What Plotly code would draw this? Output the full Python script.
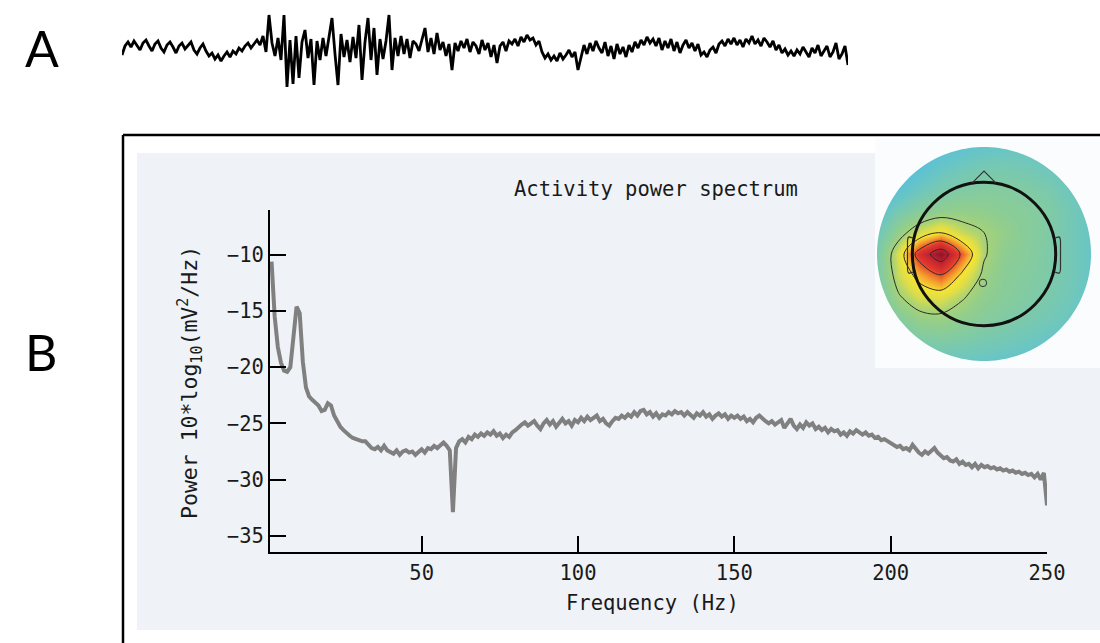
import numpy as np
import plotly.graph_objects as go

W, H = 1100, 643
def px(x): return x / W
def py(y): return 1 - y / H

# ---------------- data ----------------
# Panel A: EEG trace (amplitude, arbitrary units)
eeg_values = [
    -7, 2, 6, 1, 7, 3, -2, 5, 8, 2,
    -3, 4, 7, 0, -4, 3, 6, 1, -5, 2,
    5, -1, 3, 6, -2, -6, 0, 4, -3, -8,
    -5, -11, -7, -13, -8, -4, -9, -3, -6, 0,
    -3, 2, 5, 0, 4, 8, 3, 12, -4, 33,
    5, -8, 10, -12, 33, -39, 8, -36, 12, -30,
    6, 18, -10, 9, -37, 7, -12, 10, -8, 12,
    30, -6, -37, 14, -9, 8, -14, 11, -10, 23,
    -32, 6, 30, -12, 20, -27, 9, -11, 7, 33,
    -22, 10, -8, 12, -6, 9, -10, 7, 4, -3,
    8, 20, -4, 10, -6, 15, -2, 6, -8, 4,
    -22, 5, -3, 7, 0, 9, -4, 6, 2, -6,
    8, -2, 5, -9, 3, -15, 2, 6, -3, 7,
    4, 9, 2, 11, 6, 13, 8, 10, 3, 7,
    -4, -10, -6, -12, -8, -13, -5, -11, -7, -2,
    -9, -4, -22, -8, 3, -6, 5, -3, 7, 0,
    -5, 6, -8, 2, -11, 4, -6, 1, -9, 3,
    -4, 6, 0, 8, 3, 11, 5, 9, 2, 10,
    -2, 7, 0, 9, -3, 6, -5, 3, 8, 0,
    5, -3, 4, -7, -4, -9, -2, 1, -5, 4,
    7, 2, 9, 4, 10, 3, 8, 1, 9, 5,
    12, 4, 8, 2, 10, 6, 1, 7, -2, 3,
    -5, -1, -7, -3, -8, -2, -6, 1, -4, -9,
    0, -5, 3, -8, -3, 2, -9, -4, 5, -11,
    -6, 2, -17,
]

# Panel B: power spectrum, 2..250 Hz in 1 Hz steps
spec_start_hz = 2
spec_values = [
    -10.6, -15.5, -18.2, -19.6, -20.3, -20.4, -20.0, -17.5,
    -14.6, -15.2, -19.5, -21.8, -22.6, -22.9, -23.1, -23.4, -23.9, -23.8,
    -23.2, -23.4, -24.3, -24.9, -25.3, -25.6, -25.9, -26.1, -26.3, -26.4,
    -26.5, -26.6, -26.6, -26.9, -27.2, -27.3, -27.1, -27.4, -27.0, -27.4,
    -27.6, -27.7, -27.4, -27.8, -27.5, -27.4, -27.6, -27.5, -27.8, -27.5,
    -27.3, -27.6, -27.2, -27.3, -27.0, -27.2, -26.9, -26.7, -27.0, -27.4,
    -32.9, -27.2, -26.6, -26.4, -26.7, -26.2, -26.4, -26.0, -26.2, -25.9,
    -26.1, -25.8, -26.0, -25.7, -26.1, -25.9, -26.3, -26.0, -26.2, -25.8,
    -25.6, -25.3, -25.1, -24.9, -25.2, -25.0, -24.8, -25.2, -25.5, -25.0,
    -24.7, -25.1, -24.8, -25.3, -24.9, -24.6, -25.0, -24.8, -25.2, -24.7,
    -24.9, -24.5, -24.8, -24.4, -24.7, -24.5, -24.3, -24.8, -24.6, -25.0,
    -25.2, -24.8, -24.5, -24.6, -24.3, -24.5, -24.2, -24.4, -24.0, -24.3,
    -23.9, -23.8, -24.2, -24.0, -24.4, -24.1, -24.5, -24.2, -24.3, -24.0,
    -24.2, -23.9, -24.1, -24.0, -24.3, -24.0, -24.2, -24.5, -24.1, -24.3,
    -24.0, -24.4, -24.2, -24.6, -24.3, -24.1, -24.4, -24.2, -24.6, -24.3,
    -24.5, -24.3, -24.6, -24.4, -24.8, -24.6, -24.9, -24.5, -24.3, -24.6,
    -24.8, -25.0, -24.8, -25.1, -24.9, -24.7, -25.4, -25.0, -24.6, -25.2,
    -25.5, -25.1, -25.4, -24.9, -25.2, -25.0, -25.5, -25.3, -25.6, -25.4,
    -25.8, -25.5, -25.7, -25.6, -26.0, -25.8, -26.1, -25.7, -25.9, -25.6,
    -25.8, -26.0, -25.8, -26.1, -26.0, -26.3, -26.2, -26.5, -26.4, -26.6,
    -26.7, -26.9, -27.1, -27.0, -27.3, -27.2, -27.4, -26.9, -27.3, -27.6,
    -27.8, -27.5, -27.7, -27.4, -27.2, -27.6, -27.9, -28.1, -28.0, -28.3,
    -28.4, -28.2, -28.6, -28.4, -28.7, -28.6, -28.9, -28.6, -29.0, -28.7,
    -28.9, -28.8, -29.0, -28.9, -29.1, -29.0, -29.2, -29.1, -29.3, -29.2,
    -29.4, -29.3, -29.5, -29.4, -29.6, -29.5, -29.8, -29.5, -30.0, -29.4,
    -32.3,
]
spec_freqs = list(range(spec_start_hz, spec_start_hz + len(spec_values)))

x_tickvals = [50, 100, 150, 200, 250]
y_tickvals = [-35, -30, -25, -20, -15, -10]

# Scalp map grid (normalised head coords)
topo_x = [-1.0, -0.8, -0.6, -0.4, -0.2, 0.0, 0.2, 0.4, 0.6, 0.8, 1.0]
topo_y = [-1.0, -0.8, -0.6, -0.4, -0.2, 0.0, 0.2, 0.4, 0.6, 0.8, 1.0]
topo_z = [
    [.36, .37, .38, .39, .39, .38, .37, .36, .35, .34, .33],
    [.38, .42, .45, .46, .45, .43, .42, .40, .38, .36, .35],
    [.40, .47, .53, .54, .51, .48, .46, .44, .42, .39, .36],
    [.42, .55, .62, .63, .57, .51, .48, .46, .44, .41, .37],
    [.44, .60, .72, .80, .66, .54, .49, .47, .45, .42, .38],
    [.44, .62, .86, 1.0, .78, .57, .50, .48, .45, .42, .38],
    [.40, .52, .62, .68, .60, .56, .52, .48, .46, .42, .38],
    [.34, .43, .48, .51, .52, .51, .49, .48, .46, .42, .38],
    [.28, .34, .40, .44, .46, .47, .47, .46, .44, .40, .36],
    [.24, .28, .33, .38, .41, .43, .43, .42, .40, .37, .34],
    [.22, .24, .28, .32, .35, .37, .38, .38, .37, .35, .32],
]

# ---------------- figure ----------------
FONT = "DejaVu Sans Mono"
FS = 20.5
fig = go.Figure()

fig.add_trace(go.Scatter(
    x=spec_freqs, y=spec_values, mode="lines",
    line=dict(color="#808080", width=4), xaxis="x", yaxis="y",
    hoverinfo="skip", showlegend=False))

fig.add_trace(go.Scatter(
    x=list(range(len(eeg_values))), y=eeg_values, mode="lines",
    line=dict(color="#000000", width=2.8), xaxis="x2", yaxis="y2",
    hoverinfo="skip", showlegend=False))

topo_colorscale = [
    [0.000, "#3aa6e0"], [0.125, "#55bfe0"], [0.225, "#68c5c6"],
    [0.3125, "#7ecaa8"], [0.400, "#93ce8a"], [0.4625, "#aad374"],
    [0.525, "#dcdd4a"], [0.5875, "#f5e432"], [0.6625, "#f5a02e"],
    [0.775, "#e2392b"], [0.900, "#bd2030"], [1.000, "#8e1426"],
]
fig.add_trace(go.Heatmap(
    x=topo_x, y=topo_y, z=topo_z, zmin=0.2, zmax=1.0, zsmooth="best",
    colorscale=topo_colorscale, showscale=False, xaxis="x3", yaxis="y3",
    hoverinfo="skip"))
fig.add_trace(go.Contour(
    x=topo_x, y=topo_y, z=topo_z, showscale=False, xaxis="x3", yaxis="y3",
    contours=dict(start=0.56, end=0.95, size=0.123, coloring="none"),
    line=dict(color="#2b2b2b", width=1, smoothing=1.0), hoverinfo="skip"))

ix0, ix1, iy0, iy1 = 875, 1100, 138, 368
cx, cy, R = 984, 254, 107
x3_range = [(ix0 - cx) / R, (ix1 - cx) / R]
y3_range = [-(iy1 - cy) / R, (cy - iy0) / R]

shapes = []
# outer frame
shapes.append(dict(type="line", xref="paper", yref="paper",
                   x0=px(123), x1=1.0, y0=py(135), y1=py(135),
                   line=dict(color="black", width=2.5), layer="below"))
shapes.append(dict(type="line", xref="paper", yref="paper",
                   x0=px(123), x1=px(123), y0=py(135), y1=0.0,
                   line=dict(color="black", width=2.5), layer="below"))
# grey figure panel
shapes.append(dict(type="rect", xref="paper", yref="paper",
                   x0=px(137), x1=1.0, y0=py(630), y1=py(153),
                   fillcolor="#eff3f7", line=dict(width=0), layer="below"))

# mask outside the scalp disc
t = np.linspace(0, 2 * np.pi, 181)
a0, a1 = x3_range
b0, b1 = y3_range
outer = f"M {a0},{b0} L {a1},{b0} L {a1},{b1} L {a0},{b1} Z"
circ = "M " + " L ".join(f"{np.cos(v):.4f},{np.sin(v):.4f}" for v in t) + " Z"
shapes.append(dict(type="path", xref="x3", yref="y3", path=outer + " " + circ,
                   fillrule="evenodd", fillcolor="#fbfcfd", line=dict(width=0)))
# head outline, nose, ears, electrode
hr = 0.67
shapes.append(dict(type="circle", xref="x3", yref="y3",
                   x0=-hr, x1=hr, y0=-hr, y1=hr,
                   line=dict(color="#111111", width=3)))
shapes.append(dict(type="path", xref="x3", yref="y3",
                   path=f"M -0.11,{hr-0.005} L 0,0.775 L 0.11,{hr-0.005}",
                   line=dict(color="#333333", width=1.2)))
for s in (-1, 1):
    e0, e1 = s * 0.665, s * 0.715
    shapes.append(dict(type="path", xref="x3", yref="y3",
                       path=(f"M {e0},0.15 L {s*0.70},0.16 Q {e1},0.155 {e1},0.11 "
                             f"L {e1},-0.13 Q {e1},-0.175 {s*0.70},-0.18 L {e0},-0.17"),
                       line=dict(color="#333333", width=1.2)))
shapes.append(dict(type="circle", xref="x3", yref="y3",
                   x0=-0.045, x1=0.025, y0=-0.305, y1=-0.235,
                   line=dict(color="#333333", width=1)))

annotations = [
    dict(text="A", x=px(42), y=py(48), xref="paper", yref="paper",
         showarrow=False, font=dict(family="Lato", size=50, color="black"),
         xanchor="center", yanchor="middle"),
    dict(text="B", x=px(41), y=py(352), xref="paper", yref="paper",
         showarrow=False, font=dict(family="Lato", size=50, color="black"),
         xanchor="center", yanchor="middle"),
    dict(text="Activity power spectrum", x=px(656), y=py(189),
         xref="paper", yref="paper", showarrow=False,
         font=dict(family=FONT, size=FS, color="#1a1a1a"),
         xanchor="center", yanchor="middle"),
    dict(text="Frequency (Hz)", x=px(652), y=py(603),
         xref="paper", yref="paper", showarrow=False,
         font=dict(family=FONT, size=FS, color="#1a1a1a"),
         xanchor="center", yanchor="middle"),
    dict(text="Power 10*log<sub>10</sub>(mV<sup>2</sup>/Hz)", x=px(190), y=py(383),
         xref="paper", yref="paper", showarrow=False, textangle=-90,
         font=dict(family=FONT, size=21.5, color="#1a1a1a"),
         xanchor="center", yanchor="middle"),
]

fig.update_layout(
    width=W, height=H, margin=dict(l=0, r=0, t=0, b=0, autoexpand=False),
    paper_bgcolor="#ffffff", plot_bgcolor="#ffffff",
    showlegend=False,
    xaxis=dict(domain=[px(270), px(1047)], range=[1.5, 250],
               showline=True, linecolor="black", linewidth=2,
               showgrid=False, zeroline=False, automargin=False,
               ticks="inside", ticklen=16, tickwidth=2, tickcolor="black",
               tickvals=x_tickvals, ticklabelstandoff=1,
               tickfont=dict(family=FONT, size=FS, color="#1a1a1a"),
               anchor="y", fixedrange=True),
    yaxis=dict(domain=[py(552), py(210)], range=[-36.45, -6.0],
               showline=True, linecolor="black", linewidth=2,
               showgrid=False, zeroline=False, automargin=False,
               ticks="inside", ticklen=16, tickwidth=2, tickcolor="black",
               tickvals=y_tickvals, ticklabelstandoff=0,
               tickfont=dict(family=FONT, size=FS, color="#1a1a1a"),
               anchor="x", fixedrange=True),
    xaxis2=dict(domain=[px(122), px(848)], range=[0, len(eeg_values) - 1],
                visible=False, anchor="y2", fixedrange=True),
    yaxis2=dict(domain=[py(92), py(8)], range=[-44, 40],
                visible=False, anchor="x2", fixedrange=True),
    xaxis3=dict(domain=[px(ix0), px(ix1)], range=x3_range,
                visible=False, anchor="y3", fixedrange=True),
    yaxis3=dict(domain=[py(iy1), py(iy0)], range=y3_range,
                visible=False, anchor="x3", fixedrange=True),
    shapes=shapes, annotations=annotations,
)

fig.write_html("out.html")
